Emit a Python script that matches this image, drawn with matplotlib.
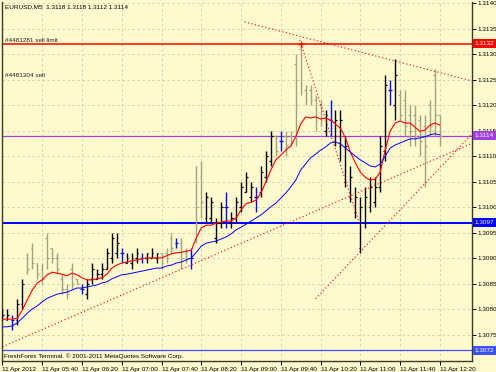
import matplotlib
matplotlib.use('Agg')
import matplotlib.pyplot as plt

plt.rcParams['font.family'] = ['Liberation Sans', 'DejaVu Sans']

# EURUSD M5, 11 Apr 2012 05:00 .. 12:20 (bar index 0..88)
bar_open = [1.3078, 1.3078, 1.3078, 1.3078, 1.3081, 1.3090, 1.3092, 1.3089, 1.3088, 1.3094,
            1.3092, 1.3090, 1.3086, 1.3084, 1.3088, 1.3086, 1.3084, 1.3083, 1.3086, 1.3086,
            1.3087, 1.3088, 1.3090, 1.3091, 1.3091, 1.3089, 1.3089, 1.3090, 1.3090, 1.3090,
            1.3090, 1.3090, 1.3091, 1.3091, 1.3094, 1.3093, 1.3093, 1.3091, 1.3090, 1.3106,
            1.3106, 1.3098, 1.3098, 1.3094, 1.3097, 1.3100, 1.3097, 1.3098, 1.3100, 1.3103,
            1.3102, 1.3102, 1.3103, 1.3106, 1.3109, 1.3114, 1.3113, 1.3114, 1.3114, 1.3128,
            1.3131, 1.3123, 1.3123, 1.3121, 1.3120, 1.3115, 1.3117, 1.3113, 1.3112, 1.3105,
            1.3102, 1.3099, 1.3092, 1.3097, 1.3100, 1.3101, 1.3104, 1.3111, 1.3123, 1.3120,
            1.3122, 1.3121, 1.3118, 1.3118, 1.3117, 1.3116, 1.3120, 1.3126, 1.3118]
bar_high = [1.3080, 1.3080, 1.3079, 1.3082, 1.3086, 1.3091, 1.3093, 1.3089, 1.3089, 1.3095,
            1.3092, 1.3091, 1.3087, 1.3085, 1.3089, 1.3086, 1.3085, 1.3086, 1.3089, 1.3088,
            1.3089, 1.3092, 1.3095, 1.3095, 1.3092, 1.3091, 1.3091, 1.3092, 1.3091, 1.3091,
            1.3092, 1.3091, 1.3091, 1.3092, 1.3095, 1.3094, 1.3094, 1.3092, 1.3092, 1.3108,
            1.3109, 1.3103, 1.3102, 1.3098, 1.3101, 1.3103, 1.3099, 1.3102, 1.3105, 1.3107,
            1.3105, 1.3104, 1.3108, 1.3111, 1.3115, 1.3114, 1.3115, 1.3115, 1.3115, 1.3130,
            1.3132, 1.3124, 1.3124, 1.3122, 1.3121, 1.3119, 1.3121, 1.3119, 1.3119, 1.3114,
            1.3108, 1.3104, 1.3102, 1.3104, 1.3106, 1.3106, 1.3114, 1.3126, 1.3125, 1.3129,
            1.3123, 1.3123, 1.3120, 1.3120, 1.3118, 1.3118, 1.3121, 1.3127, 1.3118]
bar_low = [1.3078, 1.3078, 1.3076, 1.3077, 1.3080, 1.3087, 1.3088, 1.3086, 1.3085, 1.3088,
           1.3089, 1.3087, 1.3083, 1.3082, 1.3084, 1.3085, 1.3083, 1.3082, 1.3085, 1.3086,
           1.3086, 1.3088, 1.3089, 1.3090, 1.3089, 1.3089, 1.3088, 1.3089, 1.3089, 1.3089,
           1.3090, 1.3089, 1.3088, 1.3089, 1.3091, 1.3092, 1.3088, 1.3089, 1.3088, 1.3093,
           1.3098, 1.3097, 1.3097, 1.3093, 1.3096, 1.3096, 1.3096, 1.3097, 1.3099, 1.3103,
           1.3101, 1.3099, 1.3102, 1.3105, 1.3108, 1.3110, 1.3111, 1.3110, 1.3112, 1.3112,
           1.3122, 1.3120, 1.3120, 1.3115, 1.3116, 1.3114, 1.3114, 1.3112, 1.3109, 1.3104,
           1.3101, 1.3098, 1.3091, 1.3096, 1.3099, 1.3100, 1.3103, 1.3109, 1.3120, 1.3117,
           1.3117, 1.3114, 1.3112, 1.3112, 1.3110, 1.3104, 1.3114, 1.3114, 1.3112]
bar_close = [1.3079, 1.3079, 1.3078, 1.3081, 1.3085, 1.3088, 1.3089, 1.3087, 1.3086, 1.3090,
             1.3090, 1.3088, 1.3084, 1.3083, 1.3085, 1.3085, 1.3084, 1.3085, 1.3088, 1.3087,
             1.3088, 1.3091, 1.3094, 1.3093, 1.3091, 1.3090, 1.3090, 1.3091, 1.3090, 1.3091,
             1.3091, 1.3091, 1.3089, 1.3090, 1.3092, 1.3093, 1.3090, 1.3090, 1.3090, 1.3100,
             1.3101, 1.3102, 1.3101, 1.3097, 1.3100, 1.3100, 1.3098, 1.3101, 1.3104, 1.3106,
             1.3104, 1.3102, 1.3107, 1.3110, 1.3114, 1.3111, 1.3113, 1.3112, 1.3113, 1.3125,
             1.3124, 1.3121, 1.3121, 1.3117, 1.3117, 1.3118, 1.3117, 1.3117, 1.3117, 1.3112,
             1.3106, 1.3102, 1.3100, 1.3102, 1.3104, 1.3104, 1.3112, 1.3124, 1.3123, 1.3126,
             1.3118, 1.3116, 1.3115, 1.3114, 1.3113, 1.3112, 1.3116, 1.3118, 1.3114]

ma_fast = [1.30781, 1.30781, 1.30781, 1.30783, 1.30799, 1.30819, 1.30838, 1.30852, 1.30858, 1.30868,
           1.30873, 1.30871, 1.30869, 1.30866, 1.30871, 1.30868, 1.30862, 1.30858, 1.30858, 1.30860,
           1.30862, 1.30869, 1.30881, 1.30887, 1.30891, 1.30893, 1.30895, 1.30897, 1.30899, 1.30901,
           1.30901, 1.30901, 1.30901, 1.30905, 1.30909, 1.30911, 1.30912, 1.30914, 1.30916, 1.30940,
           1.30960, 1.30965, 1.30965, 1.30969, 1.30971, 1.30973, 1.30973, 1.30979, 1.30995, 1.31007,
           1.31010, 1.31014, 1.31028, 1.31050, 1.31073, 1.31093, 1.31102, 1.31112, 1.31120, 1.31138,
           1.31163, 1.31177, 1.31175, 1.31177, 1.31173, 1.31175, 1.31171, 1.31163, 1.31155, 1.31136,
           1.31108, 1.31087, 1.31069, 1.31059, 1.31053, 1.31055, 1.31069, 1.31112, 1.31149, 1.31165,
           1.31169, 1.31165, 1.31165, 1.31157, 1.31149, 1.31151, 1.31161, 1.31165, 1.31161]
ma_slow = [1.30766, 1.30766, 1.30768, 1.30774, 1.30783, 1.30793, 1.30801, 1.30807, 1.30815, 1.30822,
           1.30826, 1.30830, 1.30832, 1.30834, 1.30838, 1.30842, 1.30842, 1.30844, 1.30846, 1.30848,
           1.30852, 1.30854, 1.30860, 1.30864, 1.30868, 1.30869, 1.30871, 1.30873, 1.30875, 1.30877,
           1.30879, 1.30881, 1.30881, 1.30885, 1.30887, 1.30891, 1.30893, 1.30897, 1.30901, 1.30912,
           1.30924, 1.30930, 1.30932, 1.30934, 1.30938, 1.30942, 1.30948, 1.30956, 1.30961, 1.30967,
           1.30973, 1.30979, 1.30985, 1.30993, 1.31001, 1.31008, 1.31018, 1.31028, 1.31040, 1.31053,
           1.31073, 1.31085, 1.31097, 1.31104, 1.31112, 1.31118, 1.31126, 1.31128, 1.31124, 1.31116,
           1.31108, 1.31100, 1.31093, 1.31087, 1.31081, 1.31079, 1.31085, 1.31100, 1.31116, 1.31122,
           1.31126, 1.31130, 1.31134, 1.31134, 1.31136, 1.31138, 1.31142, 1.31144, 1.31142]

time_ticks = [0, 8, 16, 24, 32, 40, 48, 56, 64, 72, 80, 88]
time_labels = ['11 Apr 2012', '11 Apr 05:40', '11 Apr 06:20', '11 Apr 07:00', '11 Apr 07:40',
               '11 Apr 08:20', '11 Apr 09:00', '11 Apr 09:40', '11 Apr 10:20', '11 Apr 11:00',
               '11 Apr 11:40', '11 Apr 12:20']
price_ticks = [1.3075, 1.3080, 1.3085, 1.3090, 1.3095, 1.3100, 1.3105, 1.3110,
               1.3115, 1.3120, 1.3125, 1.3130, 1.3135, 1.3140]

# horizontal levels: price, colour, width
levels = [(1.3132, '#ff0000', 1.1), (1.3114, '#a040e0', 0.9),
          (1.3097, '#0000ff', 1.4), (1.3072, '#3c50ff', 0.9)]

# trend lines: (bar, price) -> (bar, price)
trend_lines = [((48.7, 1.31363), (94.6, 1.31247)),
               ((59.8, 1.31328), (71.8, 1.30970)),
               ((0.0, 1.30727), (94.6, 1.31126)),
               ((63.0, 1.30821), (94.6, 1.31145))]

bg = '#fffacd'
fs = 4.6
fig = plt.figure(figsize=(4.96, 3.72), dpi=100, facecolor=bg)
ax = fig.add_axes([2 / 496, 11 / 372, 470 / 496, 359 / 372])
ax.set_facecolor(bg)
ax.set_xlim(-0.1, 94.47)
ax.set_ylim(1.306991, 1.314020)

ax.grid(True, color='#cfcdb0', linestyle=(0, (3, 3)), linewidth=0.6, zorder=0)

for price, col, lw in levels:
    ax.axhline(price, color=col, lw=lw, zorder=2)

# OHLC bars
for i in range(len(bar_open)):
    o, h, l, c = bar_open[i], bar_high[i], bar_low[i], bar_close[i]
    if c > o:
        col = '#000000'
    elif c < o:
        col = '#a3a384'
    else:
        col = '#0000ff'
    ax.vlines(i, l, h, color=col, lw=1.0, zorder=3)
    ax.hlines(o, i - 0.35, i, color=col, lw=0.9, zorder=3)
    ax.hlines(c, i, i + 0.35, color=col, lw=0.9, zorder=3)

xs = list(range(len(ma_fast)))
ax.plot(xs, ma_fast, color='#ff0000', lw=0.8, zorder=4)
ax.plot(xs, ma_slow, color='#0000ff', lw=0.7, zorder=4)

for (x0, y0), (x1, y1) in trend_lines:
    ax.plot([x0, x1], [y0, y1], color='#ff0000', lw=0.8,
            linestyle=(0, (1, 2.2)), zorder=5)

ax.plot([60], [1.3132], marker='+', color='#ff0000', ms=4, mew=0.9, zorder=6)

# axes look
for s in ['left', 'right', 'bottom']:
    ax.spines[s].set_color('#3a3a2a')
    ax.spines[s].set_linewidth(1.0)
ax.spines['top'].set_visible(False)

ax.yaxis.tick_right()
ax.set_yticks(price_ticks)
ax.set_yticklabels(['%.4f' % p for p in price_ticks])
ax.tick_params(axis='y', length=3, width=0.7, pad=1.2, labelsize=fs,
               colors='#000000')
ax.set_xticks(time_ticks)
ax.set_xticklabels(time_labels)
ax.tick_params(axis='x', length=3, width=0.7, pad=1.5, labelsize=fs)
for lab in ax.get_xticklabels():
    lab.set_ha('left')

ytr = ax.get_yaxis_transform()
for price, col, lw in levels:
    ax.text(1.0055, price, '%.4f' % price, transform=ytr, fontsize=fs,
            color='white', va='center', ha='left', clip_on=False, zorder=7,
            bbox=dict(boxstyle='square,pad=0.3', fc=col, ec='none'))

atr = ax.transAxes
ax.text(0.006, 0.986, 'EURUSD,M5  1.3118 1.3118 1.3112 1.3114', transform=atr,
        fontsize=fs, va='center', ha='left')
ax.text(0.006, 0.893, '#4481281 sell limit', transform=atr,
        fontsize=fs, va='center', ha='left', color='#202020')
ax.text(0.006, 0.794, '#4481304 sell', transform=atr,
        fontsize=fs, va='center', ha='left', color='#202020')
ax.text(0.004, 0.013, 'FreshForex Terminal. \u00a9 2001-2011 MetaQuotes Software Corp.',
        transform=atr, fontsize=fs, va='center', ha='left')

fig.savefig('out.png', dpi=100, facecolor=bg)
